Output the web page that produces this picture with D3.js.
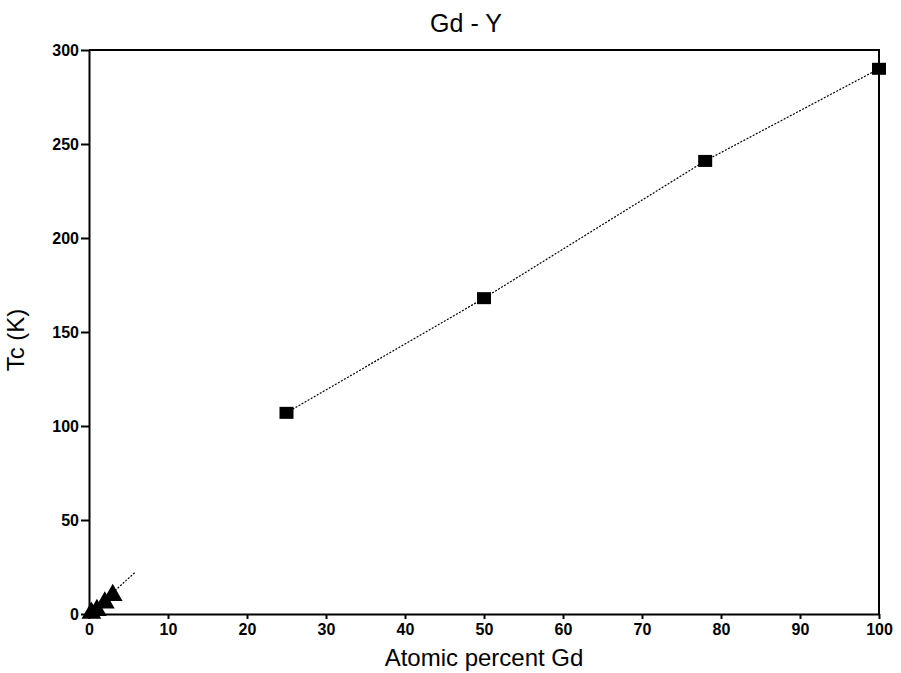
<!DOCTYPE html>
<html>
<head>
<meta charset="utf-8">
<script src="https://cdn.jsdelivr.net/npm/d3@7"></script>
<style>
  body { margin: 0; background: #fff; }
</style>
</head>
<body>
<div id="chart"></div>
<script>
// bulk alloys (squares)
const bulkX = [25, 50, 78, 100];
const bulkY = [107, 168, 241, 290];
// dilute alloys (triangles)
const diluteX = [0.3, 1, 2, 3];
const diluteY = [0.5, 2, 6, 10];
const diluteFit = [[0, 0], [5.8, 22]];
const xTicks = [0, 10, 20, 30, 40, 50, 60, 70, 80, 90, 100];
const yTicks = [0, 50, 100, 150, 200, 250, 300];

const margin = { left: 89, right: 22, top: 50, bottom: 59 };
const width = 901 - margin.left - margin.right;
const height = 673 - margin.top - margin.bottom;
const font = '"Liberation Sans", Arial, sans-serif';

const svg = d3.select('#chart').append('svg')
  .attr('width', 901)
  .attr('height', 673)
  .attr('font-family', font);

const g = svg.append('g')
  .attr('transform', `translate(${margin.left}, ${margin.top})`);

const x = d3.scaleLinear().domain([0, 100]).range([0, width]);
const y = d3.scaleLinear().domain([0, 300]).range([height, 0]);

const xAxis = g.append('g')
  .attr('transform', `translate(0, ${height})`)
  .call(d3.axisBottom(x).tickValues(xTicks).tickSize(5).tickPadding(5).tickSizeOuter(0));

const yAxis = g.append('g')
  .call(d3.axisLeft(y).tickValues(yTicks).tickSize(8).tickPadding(2).tickSizeOuter(0));

[xAxis, yAxis].forEach(a => {
  a.attr('font-family', font).attr('font-size', 16).attr('font-weight', 'bold');
  a.selectAll('path, line').attr('stroke', '#000').attr('stroke-width', 2);
  a.selectAll('text').attr('fill', '#000');
});

// top and right frame
g.append('path')
  .attr('d', `M0,0H${width}V${height}`)
  .attr('fill', 'none')
  .attr('stroke', '#000')
  .attr('stroke-width', 2);

const line = d3.line().x(d => x(d[0])).y(d => y(d[1]));

g.append('path')
  .datum(bulkX.map((d, i) => [d, bulkY[i]]))
  .attr('d', line)
  .attr('fill', 'none')
  .attr('stroke', '#000')
  .attr('stroke-width', 1.2)
  .attr('stroke-dasharray', '2,1.5');

g.append('path')
  .datum(diluteFit)
  .attr('d', line)
  .attr('fill', 'none')
  .attr('stroke', '#000')
  .attr('stroke-width', 1.2)
  .attr('stroke-dasharray', '2,1.5');

const sq = 14;
g.selectAll('.sq')
  .data(bulkX)
  .enter()
  .append('rect')
    .attr('class', 'sq')
    .attr('x', d => x(d) - sq / 2)
    .attr('y', (d, i) => y(bulkY[i]) - sq / 2 + 1)
    .attr('width', sq)
    .attr('height', sq - 2)
    .attr('fill', '#000');

g.selectAll('.tri')
  .data(diluteX)
  .enter()
  .append('path')
    .attr('class', 'tri')
    .attr('d', d3.symbol().type(d3.symbolTriangle).size(170))
    .attr('transform', (d, i) => `translate(${x(d)}, ${y(diluteY[i])})`)
    .attr('fill', '#000');

svg.append('text')
  .attr('x', 466)
  .attr('y', 32)
  .attr('text-anchor', 'middle')
  .attr('font-size', '25px')
  .text('Gd - Y');

svg.append('text')
  .attr('x', 484)
  .attr('y', 666)
  .attr('text-anchor', 'middle')
  .attr('font-size', '24px')
  .text('Atomic percent Gd');

svg.append('text')
  .attr('x', -340)
  .attr('y', 24)
  .attr('transform', 'rotate(-90)')
  .attr('text-anchor', 'middle')
  .attr('font-size', '24px')
  .text('Tc (K)');
</script>
</body>
</html>
